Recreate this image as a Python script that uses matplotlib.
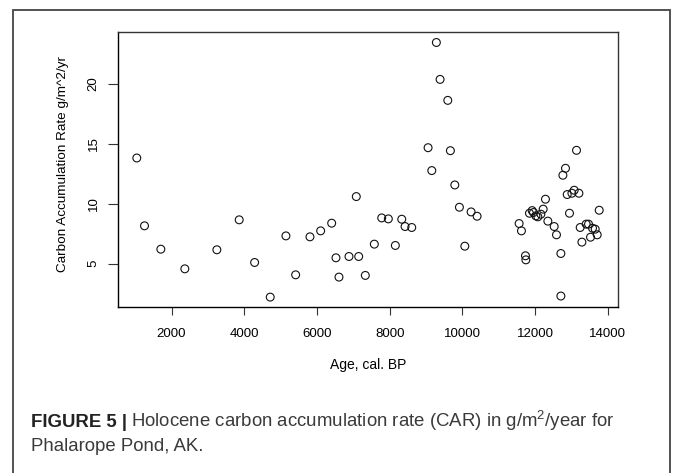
import matplotlib
matplotlib.use("Agg")
from matplotlib import pyplot as plt
from matplotlib.patches import Rectangle

# Age (cal. BP) and carbon accumulation rate (g/m^2/yr)
age = [1045, 1257, 1706, 2366, 3247, 3861, 4285, 4714, 5146, 5413,
       5807, 6101, 6404, 6522, 6605, 6880, 7081, 7147, 7329, 7577,
       7780, 7962, 8155, 8331, 8422, 8606, 9055, 9157, 9283, 9385,
       9597, 9669, 9790, 9917, 10065, 10238, 10403, 11559, 11623, 11733,
       11744, 11843, 11917, 11953, 12019, 12074, 12157, 12220, 12283, 12349,
       12523, 12586, 12707, 12707, 12762, 12834, 12881, 12944, 13010, 13073,
       13137, 13203, 13238, 13285, 13403, 13467, 13522, 13577, 13651, 13706,
       13761]
car = [13.83, 8.17, 6.22, 4.58, 6.17, 8.67, 5.11, 2.22, 7.33, 4.08,
       7.25, 7.75, 8.39, 5.50, 3.89, 5.61, 10.61, 5.61, 4.03, 6.64,
       8.83, 8.75, 6.53, 8.72, 8.11, 8.03, 14.69, 12.78, 23.47, 20.39,
       18.64, 14.44, 11.58, 9.72, 6.47, 9.33, 8.97, 8.36, 7.75, 5.67,
       5.33, 9.22, 9.44, 9.28, 9.00, 8.92, 9.14, 9.56, 10.39, 8.56,
       8.11, 7.42, 5.86, 2.31, 12.39, 12.97, 10.78, 9.22, 10.89, 11.14,
       14.47, 10.89, 8.03, 6.81, 8.31, 8.31, 7.22, 7.97, 7.89, 7.42,
       9.47]

xticks = [2000, 4000, 6000, 8000, 10000, 12000, 14000]
yticks = [5, 10, 15, 20]

plt.rcParams['font.family'] = ['Liberation Sans', 'DejaVu Sans']
plt.rcParams['mathtext.fontset'] = 'custom'
plt.rcParams['mathtext.rm'] = 'Liberation Sans'

W, H = 675, 473
fig = plt.figure(figsize=(W/100, H/100), dpi=100, facecolor='w')

# outer panel frame (bottom edge runs off the image)
fig.add_artist(Rectangle((13/W, -0.05), (670-13)/W, 1.05 - 10/H,
                         transform=fig.transFigure, fill=False,
                         ec='#444444', lw=1.3, clip_on=False))

ax = fig.add_axes([118.3/W, 1-307.3/H, (617.7-118.3)/W, (307.3-32.3)/H])
ax.scatter(age, car, s=32, facecolors='none', edgecolors='#111111',
           linewidths=0.8)

# R style limits: data range padded by 4 %
xpad = 0.04*(max(age) - min(age))
ypad = 0.04*(max(car) - min(car))
ax.set_xlim(min(age) - xpad, max(age) + xpad)
ax.set_ylim(min(car) - ypad, max(car) + ypad)

ax.set_xticks(xticks)
ax.set_xticklabels([str(t) for t in xticks], fontsize=9.5)
ax.set_yticks(yticks)
ax.set_yticklabels([str(t) for t in yticks], fontsize=9.5,
                   rotation=90, va='center')
ax.tick_params(axis='x', length=6, width=0.8, pad=9, color='#333333')
ax.tick_params(axis='y', length=7, width=0.8, pad=6.5, color='#333333')
for s in ['top', 'right']:
    ax.spines[s].set_color('#333333')
for s in ax.spines.values():
    s.set_linewidth(1.0)

ax.set_xlabel("Age, cal. BP", fontsize=10, va='center')
ax.xaxis.set_label_coords(0.5, -(365-307.3)/275)
ax.set_ylabel("Carbon Accumulation Rate g/m^2/yr", fontsize=9.7, va='center')
ax.yaxis.set_label_coords(-(118.3-63)/499.4, 0.52)

# caption
y1 = 1 - 427/H
y2 = 1 - 451/H
cap = fig.text(31/W, y1, "FIGURE 5 |", fontsize=13.4, fontweight='bold',
               color='#222222', va='baseline')
ax.annotate(r"Holocene carbon accumulation rate (CAR) in g/m$^{\mathregular{2}}$/year for",
            xy=(1, y1), xycoords=(cap, 'figure fraction'),
            xytext=(3, 0), textcoords='offset points',
            fontsize=13.4, color='#3a3a3a', va='baseline', ha='left',
            annotation_clip=False)
fig.text(31/W, y2, "Phalarope Pond, AK.", fontsize=13.4, color='#3a3a3a',
         va='baseline')

fig.savefig("out.png", dpi=100, facecolor='w')
